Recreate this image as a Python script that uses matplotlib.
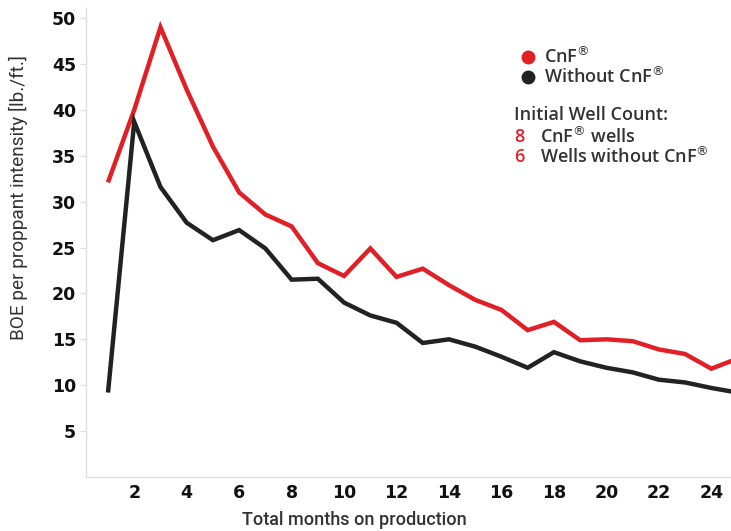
import matplotlib
matplotlib.use("Agg")
import matplotlib.pyplot as plt

# months on production
months = list(range(1, 26))
# BOE per proppant intensity
cnf = [32.1, 40.0, 49.0, 42.2, 36.0, 31.0, 28.6, 27.3, 23.3, 21.9, 24.9, 21.8, 22.7,
       20.9, 19.3, 18.2, 16.0, 16.9, 14.9, 15.0, 14.8, 13.9, 13.4, 11.8, 12.9]
no_cnf = [9.2, 38.7, 31.6, 27.7, 25.8, 26.9, 24.9, 21.5, 21.6, 19.0, 17.6, 16.8, 14.6,
          15.0, 14.2, 13.1, 11.9, 13.6, 12.6, 11.9, 11.4, 10.6, 10.3, 9.7, 9.2]
yticks = [5, 10, 15, 20, 25, 30, 35, 40, 45, 50]
xticks = list(range(2, 25, 2))
well_counts = ["8", "6"]
well_labels = ["CnF$^{®}$ wells", "Wells without CnF$^{®}$"]

RED = "#e01f26"
BLACK = "#222222"
TXT = "#333333"
lab_font = "Roboto"
leg_font = "Open Sans"

fig = plt.figure(figsize=(7.31, 5.31), dpi=100)
ax = fig.add_axes([0.1176, 0.1017, 0.8824, 0.8833])

ax.plot(months, cnf, color=RED, lw=3.2, solid_capstyle="butt", solid_joinstyle="miter", zorder=3)
ax.plot(months, no_cnf, color=BLACK, lw=3.2, solid_capstyle="butt", solid_joinstyle="miter", zorder=3)

ax.set_xlim(0.16, 24.75)
ax.set_ylim(0, 51.1)
ax.set_yticks(yticks)
ax.set_xticks(xticks)
ax.set_yticklabels([str(v) for v in yticks], fontsize=12.5, fontweight="bold",
                   family="DejaVu Sans", color="#111111")
ax.set_xticklabels([str(v) for v in xticks], fontsize=12.5, fontweight="bold",
                   family="DejaVu Sans", color="#111111")
ax.tick_params(axis="y", length=4, width=0.8, color="#dddddd", pad=3)
ax.tick_params(axis="x", length=0, pad=5)

for s in ["top", "right"]:
    ax.spines[s].set_visible(False)
for s in ["left", "bottom"]:
    ax.spines[s].set_color("#e0e0e0")
    ax.spines[s].set_linewidth(1)

fig.text(18 / 731, 1 - 198 / 531, "BOE per proppant intensity [lb./ft.]", rotation=90,
         ha="center", va="center", fontsize=13.7, family=lab_font, color=TXT)
fig.text(354 / 731, 1 - 520 / 531, "Total months on production",
         ha="center", va="center", fontsize=13, family=lab_font, fontweight="medium", color=TXT)

# legend drawn by hand
def fx(px):
    return px / 731

def fy(py):
    return 1 - py / 531

fig.lines.append(plt.Line2D([fx(528)], [fy(57)], marker="o", ms=9, color=RED,
                            transform=fig.transFigure))
fig.lines.append(plt.Line2D([fx(528)], [fy(77)], marker="o", ms=9, color=BLACK,
                            transform=fig.transFigure))
fig.text(fx(544), fy(57), "CnF$^{®}$", ha="left", va="center", fontsize=13,
         family=leg_font, fontweight="semibold", color=TXT)
fig.text(fx(544), fy(77), "Without CnF$^{®}$", ha="left", va="center", fontsize=13,
         family=leg_font, fontweight="semibold", color=TXT)
fig.text(fx(514), fy(115), "Initial Well Count:", ha="left", va="center", fontsize=13,
         family=leg_font, fontweight="semibold", color=TXT)
for i, (n, lab) in enumerate(zip(well_counts, well_labels)):
    y = fy(137 + i * 20)
    fig.text(fx(514), y, n, ha="left", va="center", fontsize=13,
             family=leg_font, fontweight="semibold", color=RED)
    fig.text(fx(540), y, lab, ha="left", va="center", fontsize=13,
             family=leg_font, fontweight="semibold", color=TXT)

fig.savefig("out.png", dpi=100)
